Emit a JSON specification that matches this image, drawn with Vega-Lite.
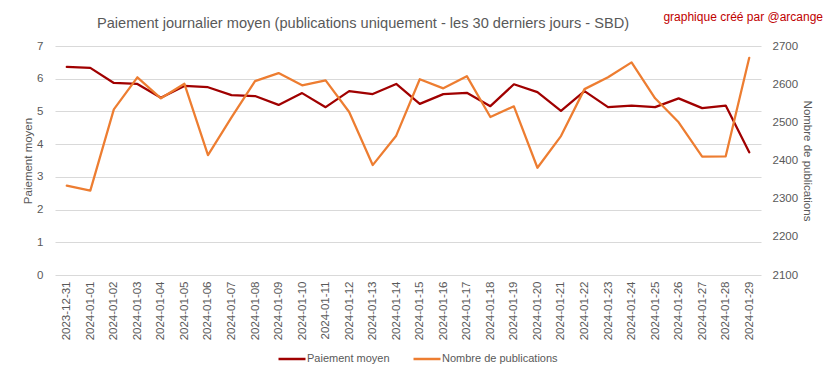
{
  "$schema": "https://vega.github.io/schema/vega-lite/v6.json",
  "width": 706,
  "height": 229,
  "autosize": {"type": "none"},
  "padding": {"left": 55, "top": 46, "right": 72, "bottom": 104},
  "background": "white",
  "config": {
    "font": "Liberation Sans",
    "view": {"stroke": null},
    "axis": {"labelColor": "#595959", "titleColor": "#595959", "titleFontWeight": "normal", "domain": false, "ticks": false}
  },
  "title": {
    "text": "Paiement journalier moyen (publications uniquement  - les 30 derniers jours - SBD)",
    "fontSize": 14.6,
    "fontWeight": "normal",
    "color": "#595959",
    "anchor": "middle",
    "frame": "group",
    "dx": -45,
    "offset": -20
  },
  "data": {
    "values": [
      {"date": "2023-12-31", "paiement": 6.36, "publications": 2334},
      {"date": "2024-01-01", "paiement": 6.33, "publications": 2321},
      {"date": "2024-01-02", "paiement": 5.87, "publications": 2534},
      {"date": "2024-01-03", "paiement": 5.84, "publications": 2618},
      {"date": "2024-01-04", "paiement": 5.42, "publications": 2563},
      {"date": "2024-01-05", "paiement": 5.78, "publications": 2601},
      {"date": "2024-01-06", "paiement": 5.74, "publications": 2414},
      {"date": "2024-01-07", "paiement": 5.50, "publications": 2513},
      {"date": "2024-01-08", "paiement": 5.47, "publications": 2608},
      {"date": "2024-01-09", "paiement": 5.20, "publications": 2629},
      {"date": "2024-01-10", "paiement": 5.56, "publications": 2597},
      {"date": "2024-01-11", "paiement": 5.13, "publications": 2610},
      {"date": "2024-01-12", "paiement": 5.62, "publications": 2527},
      {"date": "2024-01-13", "paiement": 5.53, "publications": 2388},
      {"date": "2024-01-14", "paiement": 5.84, "publications": 2465},
      {"date": "2024-01-15", "paiement": 5.23, "publications": 2613},
      {"date": "2024-01-16", "paiement": 5.53, "publications": 2589},
      {"date": "2024-01-17", "paiement": 5.57, "publications": 2621},
      {"date": "2024-01-18", "paiement": 5.16, "publications": 2514},
      {"date": "2024-01-19", "paiement": 5.83, "publications": 2542},
      {"date": "2024-01-20", "paiement": 5.59, "publications": 2381},
      {"date": "2024-01-21", "paiement": 5.02, "publications": 2464},
      {"date": "2024-01-22", "paiement": 5.62, "publications": 2587},
      {"date": "2024-01-23", "paiement": 5.13, "publications": 2618},
      {"date": "2024-01-24", "paiement": 5.18, "publications": 2657},
      {"date": "2024-01-25", "paiement": 5.13, "publications": 2563},
      {"date": "2024-01-26", "paiement": 5.40, "publications": 2500},
      {"date": "2024-01-27", "paiement": 5.10, "publications": 2410},
      {"date": "2024-01-28", "paiement": 5.18, "publications": 2411},
      {"date": "2024-01-29", "paiement": 3.75, "publications": 2669}
    ]
  },
  "encoding": {
    "x": {
      "field": "date",
      "type": "ordinal",
      "scale": {"type": "point", "padding": 0.5},
      "axis": {"title": null, "labelAngle": -90, "labelFontSize": 11.5, "labelPadding": 6, "grid": false}
    }
  },
  "layer": [
    {
      "mark": {"type": "line", "strokeWidth": 2.25, "strokeJoin": "round", "strokeCap": "round"},
      "encoding": {
        "y": {
          "field": "paiement",
          "type": "quantitative",
          "scale": {"domain": [0, 7], "nice": false},
          "axis": {"title": "Paiement moyen", "values": [0, 1, 2, 3, 4, 5, 6, 7], "grid": true, "gridColor": "#d9d9d9", "labelFontSize": 11.5, "labelPadding": 12, "titleFontSize": 11.5, "titlePadding": 3}
        },
        "color": {
          "datum": "Paiement moyen",
          "scale": {"domain": ["Paiement moyen", "Nombre de publications"], "range": ["#a00000", "#ed7d31"]},
          "legend": {"title": null, "orient": "none", "legendX": 222, "legendY": 298, "direction": "horizontal", "symbolType": "stroke", "symbolSize": 729, "symbolStrokeWidth": 2.5, "labelFontSize": 11, "labelColor": "#595959", "labelOffset": 0, "columnPadding": 18}
        }
      }
    },
    {
      "mark": {"type": "line", "strokeWidth": 2.25, "strokeJoin": "round", "strokeCap": "round"},
      "encoding": {
        "y": {
          "field": "publications",
          "type": "quantitative",
          "scale": {"domain": [2100, 2700], "nice": false},
          "axis": {"orient": "right", "title": "Nombre de publications", "format": "d", "values": [2100, 2200, 2300, 2400, 2500, 2600, 2700], "grid": false, "labelFontSize": 11.5, "labelPadding": 11, "titleFontSize": 11.5, "titlePadding": 4}
        },
        "color": {"datum": "Nombre de publications"}
      }
    },
    {
      "data": {"values": [{"label": "graphique créé par @arcange", "date": "2024-01-29", "pos": 7.9}]},
      "mark": {"type": "text", "color": "#c00000", "fontSize": 12, "align": "center", "baseline": "middle", "dx": -6},
      "encoding": {
        "x": {"field": "date", "type": "ordinal"},
        "y": {"field": "pos", "type": "quantitative", "scale": {"domain": [0, 7], "nice": false}, "axis": null},
        "text": {"field": "label"}
      }
    }
  ],
  "resolve": {"scale": {"y": "independent"}}
}
